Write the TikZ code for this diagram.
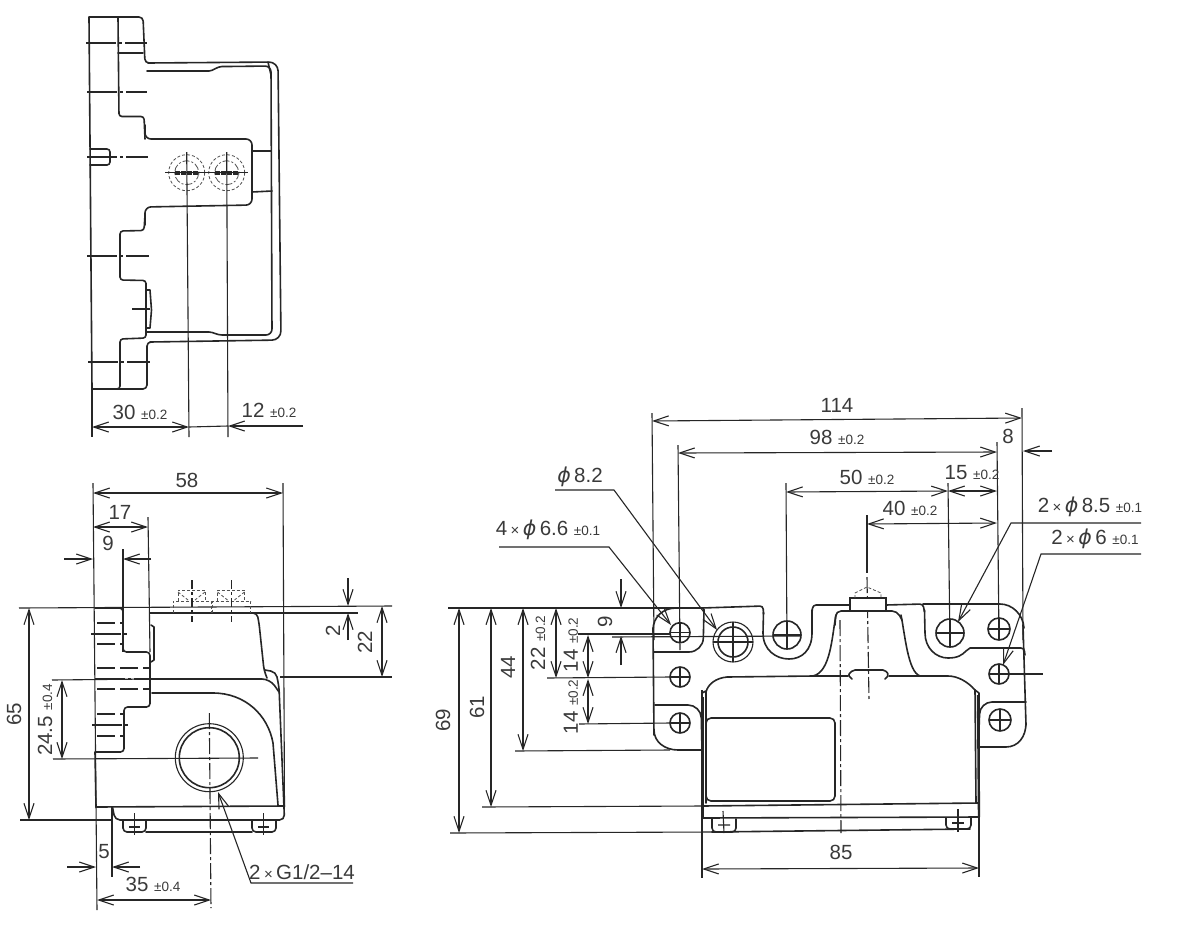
\documentclass[tikz,border=0pt]{standalone}
\usepackage{fontspec}
\setmainfont{Liberation Sans}
\newfontfamily\phifont{DejaVu Sans}
\usetikzlibrary{arrows.meta}
\definecolor{ink}{HTML}{262626}
\definecolor{txt}{HTML}{3A3A3A}
\newcommand{\tolr}[1]{{\fontsize{13.5}{14}\selectfont #1}}
\newcommand{\phis}{{\phifont\itshape ϕ}}
\newcommand{\tms}{{\fontsize{15}{15}\selectfont ×}}
\tikzset{
  outl/.style={draw=ink,line width=1.6pt,line join=round,line cap=round},
  thick2/.style={draw=ink,line width=2.4pt},
  thinl/.style={draw=ink,line width=1.1pt},
  cl/.style={draw=ink,line width=1.1pt,dash pattern=on 30pt off 3pt on 3pt off 3pt},
  cl2/.style={draw=ink,line width=1.1pt,dash pattern=on 16pt off 3pt on 3pt off 3pt},
  hid/.style={draw=ink!80,line width=0.8pt,dash pattern=on 3pt off 2pt},
  hidb/.style={draw=ink,line width=1.1pt,dash pattern=on 18pt off 5pt},
  dimb/.style={thinl,{Straight Barb[length=15pt,width=10pt,line width=1.1pt]}-{Straight Barb[length=15pt,width=10pt,line width=1.1pt]}},
  dime/.style={thinl,-{Straight Barb[length=15pt,width=10pt,line width=1.1pt]}},
  lbl/.style={inner sep=0pt,text=txt,font=\fontsize{20.5}{22}\selectfont},
}
\begin{document}
\begin{tikzpicture}[x=1pt,y=-1pt]
\useasboundingbox[fill=white] (0,0) rectangle (1200,943);
% ===== top view =====
\draw[outl] (92,389) -- (89,17) -- (136,17);
\draw[outl,rounded corners=4pt] (134,17) -- (143,17) -- (145,63) -- (150,63);
\draw[outl,rounded corners=9pt] (148,63) -- (278,62) -- (281,340) -- (150,342);
\draw[outl,rounded corners=4pt] (152,342) -- (147,342) -- (147,389) -- (125,389);
\draw[outl] (130,389) -- (92,389);
\draw[outl,rounded corners=3pt] (118,17) -- (119,116.5) -- (144,116.5) -- (145,139);
\draw[outl,rounded corners=6pt] (145,125) -- (145,139) -- (252,139) -- (252,205) -- (145,207) -- (145,225);
\draw[outl,rounded corners=3pt] (145,215) -- (144,230.5) -- (120,231) -- (120,280) -- (146,280.5) -- (146,338) -- (120,339) -- (120,389) -- (114,389);
\draw[outl] (118,53) -- (143,53);
\draw[outl,rounded corners=6pt] (147,71) -- (203,71) .. controls (213,71) and (217,66.5) .. (228,66.5) -- (271,66) -- (272,335) -- (228,335) .. controls (217,335) and (213,332) .. (203,332) -- (147,332);
\draw[outl] (268,62) -- (271,75);
\draw[outl] (252,151) -- (271,151) (252,192) -- (272,191);
\draw[outl,rounded corners=3pt] (90,149) -- (110,149) -- (110,165) -- (90,165);
\draw[outl] (147,290) -- (150,290) -- (151.5,310) -- (150,328) -- (147,328);
\draw[thinl] (132,309) -- (150,309);
\foreach \yy/\xa/\xb in {43/86/147,92/87/147,157/87/148,256/87/149,362/88/150}
  \draw[cl] (\xa,\yy) -- (\xb,\yy);
% terminal circles
\foreach \cx in {186.7,226.7}{
  \draw[hid] (\cx,172.7) circle[radius=18];
  \draw[hid,dash pattern=on 7pt off 2pt on 2pt off 2pt] (\cx,172.7) circle[radius=12];
  \draw[line width=1.2pt,draw=ink,dash pattern=on 5pt off 1pt] (\cx-12,171.5) -- (\cx+12,171.5) (\cx-12,174) -- (\cx+12,174);
}
\draw[thinl] (165,172.7) -- (248,172.7);
\draw[thinl] (186.7,152) -- (189,437);
\draw[thinl] (226.7,152) -- (228,437);
\draw[thinl] (92,389) -- (92,437);
\draw[dimb] (92,427) -- (189,427);
\draw[thinl] (189,427) -- (228,426);
\draw[dime] (303,426) -- (228,426);
\node[lbl] (t30) at (140,412) {30 \tolr{±0.2}};
\node[lbl] (t12) at (269,410) {12 \tolr{±0.2}};
% ===== left view =====
\draw[thinl] (93,483) -- (97,910);
\draw[thinl] (283,483) -- (284.5,807);
\draw[dimb] (93,493) -- (283,493);
\node[lbl] (t58) at (187,480) {58};
\draw[thinl] (148,517) -- (150,652);
\draw[dimb] (93,527) -- (148,527);
\node[lbl] (t17) at (120,512) {17};
\draw[dime] (64,559) -- (93,559);
\draw[dime] (151,559) -- (123,559);
\draw[thinl] (123,549) -- (123,652);
\node[lbl] (t9a) at (108,543) {9};
\draw[thinl] (19,608) -- (392,606);
\draw[thinl] (150,613) -- (358,613);
\draw[dime] (348,578) -- (348,606);
\draw[dime] (348,640) -- (348,613);
\node[lbl,rotate=90] (t2) at (333,631) {2};
\draw[dimb] (382,606) -- (382,677);
\draw[thinl] (280,677) -- (392,677);
\draw[thinl] (52,680) -- (151,679);
\node[lbl,rotate=90] (t22) at (365,642) {22};
\draw[dimb] (29,608) -- (29,820);
\draw[thinl] (20,820) -- (112,820);
\node[lbl,rotate=90] (t65) at (14,714) {65};
\draw[dimb] (62,680) -- (62,759);
\draw[thinl] (53,759) -- (258,758);
\node[lbl,rotate=90] (t245) at (45,720) {24.5 \tolr{±0.4}};
% flange
\draw[outl,rounded corners=3.5pt] (95,608) -- (123,608) -- (123,652) -- (150,652) -- (150,707) -- (124,707) -- (124,752) -- (96,752);
\foreach \yy/\xb in {623/122,644/122,668/149,689/149,714/123,736/123}
  \draw[hidb] (97,\yy) -- (\xb,\yy);
\foreach \yy/\xa/\xb in {634/91/127,679/95/150,725/92/128}
  \draw[cl] (\xa,\yy) -- (\xb,\yy);
\draw[outl] (151,625) -- (154,627) -- (154,660) -- (151,662);
% body
\draw[outl,rounded corners=4pt] (150,613) -- (257,613) -- (259,623) -- (264,670) -- (267,678);
\draw[outl,rounded corners=5pt] (265,670) -- (276,672) -- (279,687) -- (284.5,820) -- (115,820) -- (112.5,807);
\draw[outl,rounded corners=8pt] (151,679) -- (270,679) -- (279,692);
\draw[outl] (152,693) -- (213,693) .. controls (245,693) and (268,715) .. (273,743) -- (278,805);
\draw[outl] (96,807) -- (284.5,806);
% left edge
\draw[outl] (95,752) -- (96,807);
\draw[outl,rounded corners=4pt] (123,820) -- (123,832) -- (146,832) -- (146,820);
\draw[outl,rounded corners=4pt] (252,820) -- (252,832) -- (276,832) -- (276,820);
\draw[outl] (146,832) -- (252,832);
\draw[thinl] (134.5,813) -- (134.5,835) (129,827) -- (140,827);
\draw[thinl] (263.5,813) -- (263.5,835) (258,827) -- (269,827);
% port
\draw[thinl] (209.3,757.7) circle[radius=34];
\draw[outl] (209.3,757.7) circle[radius=30];
\draw[cl2] (209.3,713) -- (211,908);
% terminals above
\foreach \cx in {192,231.5}{
  \draw[hid] (\cx-19,613) -- (\cx-19,601) -- (\cx+19,601) -- (\cx+19,613);
  \draw[hid] (\cx-14,601) -- (\cx-14,590) -- (\cx+13,590) -- (\cx+13,601);
  \draw[hid] (\cx-14,592) -- (\cx-4,600) (\cx+13,592) -- (\cx+3,600);
  \draw[cl2,dash pattern=on 9pt off 3pt on 3pt off 3pt] (\cx,580) -- (\cx,622);
}
\draw[dime] (67,867) -- (96,867);
\draw[dime] (140,867) -- (112,867);
\draw[thinl] (112,807) -- (112,877);
\node[lbl] (t5) at (104,852) {5};
\draw[dimb] (97,900) -- (211,900);
\node[lbl] (t35) at (153,884) {35 \tolr{±0.4}};
\draw[thinl,{Straight Barb[length=15pt,width=10pt,line width=1.1pt]}-] (218,792) -- (251,883) -- (353,883);
\node[lbl] (tg) at (302,872) {2\,\tms\,G1/2–14};
% ===== front view =====
\draw[thinl] (652,413) -- (654,640);
\draw[thinl] (1022,408) -- (1023,640);
\draw[dimb] (652,421) -- (1022,418);
\node[lbl] (t114) at (837,405) {114};
\draw[thinl] (678,445) -- (680,650);
\draw[thinl] (997,442) -- (999,640);
\draw[dimb] (678,453) -- (997,452);
\node[lbl] (t98) at (837,437) {98 \tolr{±0.2}};
\draw[dime] (1052,451) -- (1023,451);
\node[lbl] (t8) at (1008,436) {8};
\draw[thinl] (786,483) -- (787,648);
\draw[thinl] (948,483) -- (950,647);
\draw[dimb] (786,492) -- (948,491);
\node[lbl] (t50) at (867,477) {50 \tolr{±0.2}};
\draw[dimb] (948,491) -- (997,491);
\node[lbl] (t15) at (972,473) {15 \tolr{±0.2}};
\draw[dimb] (867,524) -- (997,523);
\node[lbl] (t40) at (910,508) {40 \tolr{±0.2}};
\draw[thinl] (867,515) -- (867,573);
\draw[cl2] (867,577) -- (869,700);
\draw[dime] (1141,523) -- (1011,523) -- (958,622);
\node[lbl] (t85) at (1090,507) {2\,\tms\,\phis\,8.5 \tolr{±0.1}};
\draw[dime] (1141,554) -- (1041,554) -- (1003,665);
\node[lbl] (t6) at (1095,539) {2\,\tms\,\phis\,6 \tolr{±0.1}};
\draw[dimb] (702,869) -- (979,868);
\node[lbl] (t85b) at (841,852) {85};
\draw[thinl] (702,690) -- (702,878);
\draw[thinl] (979,693) -- (979,877);
\draw[cl2] (840,620) -- (841,833);
% plate
\draw[thinl] (448,608) -- (702,608);
\draw[outl] (653,630) .. controls (653,617) and (663,608) .. (676,608) -- (702,608);
\draw[outl] (653,628) -- (654,735);
\draw[outl,rounded corners=14pt] (704,610) -- (703,652) -- (654,652);
\draw[outl,rounded corners=13pt] (655,705) -- (701,705) -- (702,750);
\draw[outl] (654,730) .. controls (654,742) and (665,750) .. (678,750) -- (702,750);
\draw[outl,rounded corners=2pt] (700,608) -- (704,608) -- (704,612);
\draw[outl,rounded corners=3pt] (702,608) -- (763,606) -- (763.5,614);
\draw[outl] (763.5,612) -- (763,633) .. controls (763,650) and (776,659) .. (789,659) .. controls (802,659) and (812,650) .. (812,633) -- (812,610);
\draw[outl,rounded corners=3pt] (812,612) -- (813,605) -- (850,605);
\draw[thinl,fill=white] (850,610) -- (850,598) -- (886,598) -- (886,610);
\draw[outl,rounded corners=3pt] (886,605) -- (923,604) -- (924.5,612);
\draw[outl] (924.5,610) -- (925,633) .. controls (925,648) and (936,658) .. (948,658) .. controls (958,658) and (962,655) .. (966,651) -- (970,648) -- (1020,648);
\draw[outl,rounded corners=3pt] (1018,648) -- (1024,648) -- (1025,655);
\draw[outl] (923,604) -- (1000,604) .. controls (1012,604) and (1023,614) .. (1024,628);
\draw[outl] (1023,625) -- (1026,725);
\draw[outl] (1026,723) .. controls (1026,737) and (1018,747) .. (1006,747) -- (979,747);
\draw[outl,rounded corners=12pt] (1026,702) -- (980,702) -- (979,730);
% central cover
\draw[outl,rounded corners=5pt] (835,625) -- (836,611) -- (897,611) -- (902,620);
\draw[outl] (836,615) .. controls (832,635) and (831,672) .. (813,676) -- (848,676);
\draw[outl] (813,676) -- (727,677) .. controls (716,678) and (708,684) .. (706,692);
\draw[outl] (901,615) .. controls (905,635) and (908,672) .. (920,676) -- (948,676) .. controls (958,676) and (968,682) .. (975,690);
\draw[outl] (889,676) -- (920,676);
\draw[outl] (702,693) -- (706,691);
\draw[thick2] (703,697) -- (703,818);
\draw[outl] (706,692) -- (706,803);
\draw[outl] (975,690) -- (979,693);
\draw[thick2] (978,695) -- (979,817);
\draw[outl] (975,690) -- (976,803);
\draw[outl,rounded corners=5pt] (706,718) rectangle (835,801);
% base
\draw[thinl] (482,807) -- (703,806);
\draw[outl] (703,806) -- (979,803);
\draw[outl] (703,818) -- (979,817);
\draw[outl] (979,817) -- (979,803);
\draw[thinl] (450,833) -- (712,832);
\draw[outl] (712,832) -- (970,829);
\draw[outl,rounded corners=4pt] (712,819) -- (712,832) -- (736,832) -- (736,819);
\draw[outl,rounded corners=4pt] (946,818) -- (946,829) -- (971,829) -- (971,818);
\draw[thinl] (723,811) -- (724,833) (718,825) -- (730,825);
\draw[thinl] (958,809) -- (958,832) (952,823) -- (964,823);
% notch
\draw[outl,rounded corners=2pt] (852,679) -- (848,675) -- (853,670) -- (885,670) -- (889,675) -- (885,679);
% pusher dashed
\draw[hid] (855,598) -- (855,593) -- (867,587) -- (881,593) -- (881,598);
% holes
\foreach \cx/\cy/\rr in {680/632.7/10,680/677/10,680/723/10,787/635/14,950/633/14,999/629/11,999/674/10,1000/720/11}{
  \draw[outl] (\cx,\cy) circle[radius=\rr];
  \draw[thinl] (\cx-\rr,\cy) -- (\cx+\rr,\cy) (\cx,\cy-\rr) -- (\cx,\cy+\rr);
}
\draw[thinl] (733,642) circle[radius=20];
\draw[outl] (733,642) circle[radius=15];
\draw[thinl] (733,622) -- (733,662) (713,642) -- (753,642);
% ext lines for holes
\draw[thinl] (612,637) -- (800,636);
\draw[thinl] (578,634) -- (670,634);
\draw[thinl] (547,678) -- (670,677);
\draw[thinl] (579,724) -- (670,723);
\draw[thinl] (1009,674) -- (1043,674);
\draw[thinl] (515,751) -- (670,750);
% dims left
\draw[dime] (621,579) -- (621,608);
\draw[dime] (621,665) -- (621,636);
\node[lbl,rotate=90] (t9b) at (605,622) {9};
\draw[dimb] (588,635) -- (588,678);
\draw[dimb] (588,679) -- (588,724);
\node[lbl,rotate=90] (t14a) at (571,645) {14 \tolr{±0.2}};
\node[lbl,rotate=90] (t14b) at (571,707) {14 \tolr{±0.2}};
\draw[dimb] (556,608) -- (556,678);
\node[lbl,rotate=90] (t22b) at (538,643) {22 \tolr{±0.2}};
\draw[dimb] (523,608) -- (523,751);
\node[lbl,rotate=90] (t44) at (508,667) {44};
\draw[dimb] (491,608) -- (491,807);
\node[lbl,rotate=90] (t61) at (477,707) {61};
\draw[dimb] (459,608) -- (459,833);
\node[lbl,rotate=90] (t69) at (443,720) {69};
\draw[dime] (555,490) -- (614,490) -- (717,630);
\node[lbl] (t82) at (580,477) {\phis\,8.2};
\draw[dime] (499,547) -- (609,547) -- (671,625);
\node[lbl] (t66) at (548,530) {4\,\tms\,\phis\,6.6 \tolr{±0.1}};
\end{tikzpicture}
\end{document}
